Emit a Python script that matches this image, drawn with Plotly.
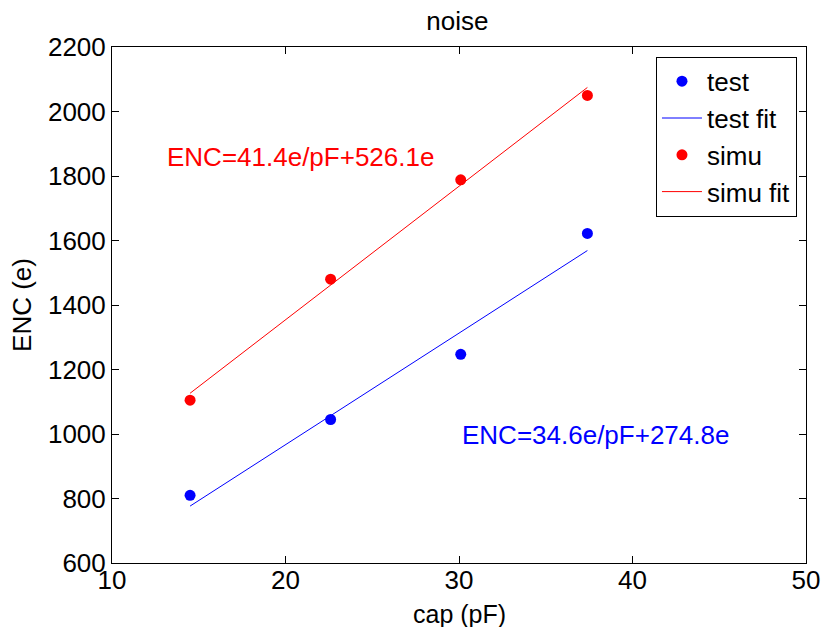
import plotly.graph_objects as go

cap = [14.5, 22.6, 30.1, 37.4]
test_enc = [810, 1045, 1247, 1622]
simu_enc = [1105, 1480, 1788, 2050]
test_fit = [776.5, 1056.8, 1316.3, 1568.8]
simu_fit = [1126.4, 1461.7, 1772.2, 2074.5]
test_label = "ENC=34.6e/pF+274.8e"
simu_label = "ENC=41.4e/pF+526.1e"

FONT = "Liberation Sans, Arial, sans-serif"
FS = 26

fig = go.Figure()
fig.add_trace(go.Scatter(x=cap, y=test_enc, mode="markers", name="test",
                         marker=dict(color="#0000FF", size=11)))
fig.add_trace(go.Scatter(x=cap, y=test_fit, mode="lines", name="test fit",
                         line=dict(color="#0000FF", width=1)))
fig.add_trace(go.Scatter(x=cap, y=simu_enc, mode="markers", name="simu",
                         marker=dict(color="#FF0000", size=11)))
fig.add_trace(go.Scatter(x=cap, y=simu_fit, mode="lines", name="simu fit",
                         line=dict(color="#FF0000", width=1)))

fig.add_annotation(x=13.05, y=1859, text=simu_label, showarrow=False,
                   xanchor="left", yanchor="middle",
                   font=dict(color="#FF0000", size=FS, family=FONT))
fig.add_annotation(x=30.06, y=997, text=test_label, showarrow=False,
                   xanchor="left", yanchor="middle",
                   font=dict(color="#0000FF", size=FS, family=FONT))
# x-axis title placed just below the tick labels
fig.add_annotation(x=0.5, xref="paper", y=-0.099, yref="paper", text="cap (pF)",
                   showarrow=False, xanchor="center", yanchor="middle",
                   font=dict(color="black", size=25, family=FONT))

axis_common = dict(showgrid=False, zeroline=False, showline=True, linecolor="black",
                   linewidth=1, mirror="ticks", ticks="inside", ticklen=7,
                   tickcolor="black", automargin=False,
                   tickfont=dict(size=FS, color="black", family=FONT))

fig.update_layout(
    width=821, height=627,
    margin=dict(l=112, r=15, t=47, b=64),
    paper_bgcolor="white", plot_bgcolor="white",
    font=dict(family=FONT, size=FS, color="black"),
    title=dict(text="noise", x=0.557, xanchor="center", y=0.966, yanchor="middle",
               font=dict(size=FS, color="black", family=FONT)),
    xaxis=dict(range=[10, 50], tickvals=[10, 20, 30, 40, 50],
               ticklabelstandoff=-6, **axis_common),
    yaxis=dict(range=[600, 2200], tickvals=list(range(600, 2201, 200)),
               title=dict(text="ENC (e)", standoff=8, font=dict(size=FS)), **axis_common),
    legend=dict(x=0.987, y=0.981, xanchor="right", yanchor="top",
                bordercolor="black", borderwidth=1, bgcolor="white",
                font=dict(size=FS, color="black", family=FONT),
                tracegroupgap=0, itemwidth=40),
    showlegend=True,
)

fig.write_html("out.html")
